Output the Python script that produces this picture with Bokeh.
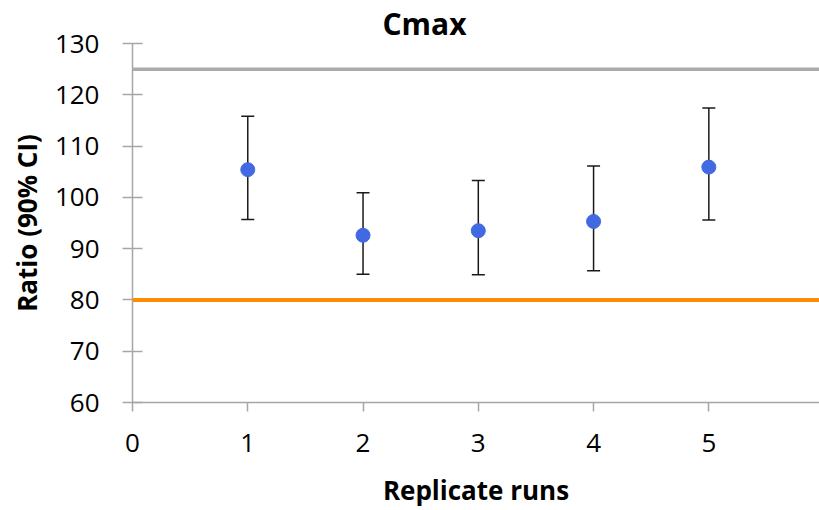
from bokeh.plotting import figure
from bokeh.models import (Range1d, FixedTicker, Whisker, TeeHead, ColumnDataSource,
                          Span)
from bokeh.embed import file_html
from bokeh.resources import INLINE

# ---- data ----
runs = [1, 2, 3, 4, 5]
ratio = [105.4, 92.6, 93.5, 95.3, 105.9]
ci_upper = [115.8, 100.9, 103.3, 106.1, 117.4]
ci_lower = [95.7, 85.0, 84.9, 85.7, 95.6]
upper_limit = 125
lower_limit = 80
x_ticks = [0, 1, 2, 3, 4, 5]
y_ticks = [60, 70, 80, 90, 100, 110, 120, 130]

FONT = "Open Sans"

src = ColumnDataSource(dict(x=runs, y=ratio, upper=ci_upper, lower=ci_lower))

p = figure(width=819, height=510, output_backend="svg", toolbar_location=None,
           x_range=Range1d(0, 5.96), y_range=Range1d(60, 130),
           min_border_left=132, min_border_right=0, min_border_top=0,
           min_border_bottom=106)
p.outline_line_color = None
p.xgrid.visible = False
p.ygrid.visible = False
p.background_fill_color = "white"
p.border_fill_color = "white"

p.title.text = "Cmax"
p.title.text_font = FONT
p.title.text_font_size = "30px"
p.title.text_font_style = "bold"
p.title.text_color = "black"
p.title.align = "left"
p.title.offset = 250
p.title.standoff = 0

for ax in (p.xaxis[0], p.yaxis[0]):
    ax.axis_line_color = "#A6A6A6"
    ax.axis_line_width = 1.5
    ax.major_tick_line_color = "#A6A6A6"
    ax.major_tick_line_width = 1.5
    ax.minor_tick_line_color = None
    ax.major_label_text_font = FONT
    ax.major_label_text_font_size = "26px"
    ax.major_label_text_color = "black"
    ax.axis_label_text_font = FONT
    ax.axis_label_text_font_size = "26px"
    ax.axis_label_text_font_style = "bold"
    ax.axis_label_text_color = "black"

p.xaxis.ticker = FixedTicker(ticks=x_ticks)
p.yaxis.ticker = FixedTicker(ticks=y_ticks)
p.xaxis.axis_label = "Replicate runs"
p.yaxis.axis_label = "Ratio (90% CI)"
p.xaxis.major_tick_in = 0
p.xaxis.major_tick_out = 9
p.yaxis.major_tick_in = 10
p.yaxis.major_tick_out = 10
p.xaxis.major_label_standoff = 22
p.yaxis.major_label_standoff = 23
p.xaxis.axis_label_standoff = 17
p.yaxis.axis_label_standoff = 7

p.add_layout(Span(location=upper_limit, dimension="width",
                  line_color="#ABABAB", line_width=3.5))
p.add_layout(Span(location=lower_limit, dimension="width",
                  line_color="#FF8C00", line_width=4))

w = Whisker(source=src, base="x", upper="upper", lower="lower",
            line_color="#1a1a1a", line_width=1.5,
            upper_head=TeeHead(size=13, line_color="#1a1a1a", line_width=1.5),
            lower_head=TeeHead(size=13, line_color="#1a1a1a", line_width=1.5))
p.add_layout(w)

p.scatter("x", "y", source=src, size=14, color="#4169E1")

open("out.html", "w").write(file_html(p, INLINE))
